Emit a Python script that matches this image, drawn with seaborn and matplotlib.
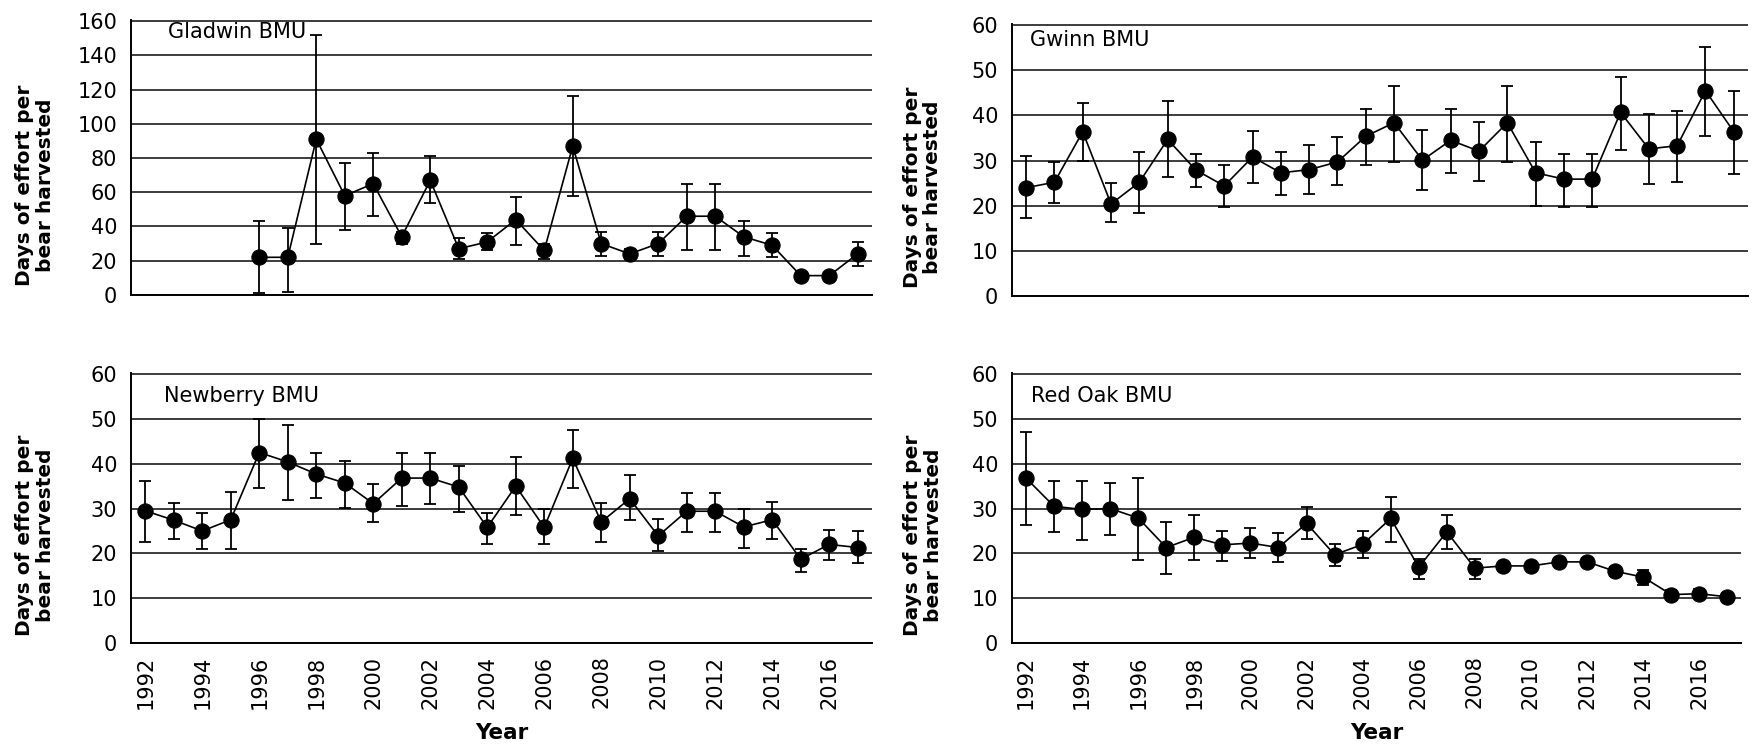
import numpy as np
import pandas as pd
import seaborn as sns
import matplotlib.pyplot as plt
from matplotlib.ticker import FixedLocator, MultipleLocator

nan = np.nan
years = list(range(1992, 2018))
year_labels = [str(y) if y % 2 == 0 else "" for y in years]

gladwin_mean = [nan, nan, nan, nan, 22, 22, 91, 58, 65, 34, 67, 27, 31, 44, 26, 87,
                30, 24, 30, 46, 46, 34, 29, 11.3, 11.3, 24]
gladwin_lo = [nan, nan, nan, nan, 1, 2, 30, 38, 46, 30, 54, 21, 26, 29, 21, 58,
              23, 21, 23, 26, 26, 23, 22, 9.5, 9.5, 17]
gladwin_hi = [nan, nan, nan, nan, 43, 39, 152, 77, 83, 37, 81, 33, 36, 57, 29.5, 116,
              37, 27, 37, 65, 65, 43, 36, 13, 13, 31]

gwinn_mean = [24, 25.2, 36.4, 20.4, 25.2, 34.7, 27.9, 24.4, 30.8, 27.3, 28, 29.7, 35.4,
              38.4, 30.1, 34.5, 32.1, 38.4, 27.3, 25.9, 25.9, 40.7, 32.6, 33.3, 45.5, 36.4]
gwinn_lo = [17.2, 20.7, 30, 16.3, 18.3, 26.3, 24.2, 19.7, 25, 22.3, 22.6, 24.5, 29.1,
            29.7, 23.4, 27.3, 25.5, 29.7, 20, 19.8, 19.8, 32.4, 24.9, 25.3, 35.4, 27.1]
gwinn_hi = [31, 29.7, 42.8, 25, 32, 43.2, 31.5, 29.1, 36.5, 31.9, 33.4, 35.3, 41.4,
            46.5, 36.7, 41.4, 38.5, 46.5, 34.1, 31.5, 31.5, 48.6, 40.3, 41, 55.2, 45.5]

newberry_mean = [29.5, 27.4, 25, 27.5, 42.5, 40.4, 37.7, 35.7, 31.1, 36.8, 36.8, 34.8, 25.8,
                 35, 25.8, 41.2, 27, 32.2, 23.9, 29.4, 29.4, 25.9, 27.5, 18.7, 22, 21.3]
newberry_lo = [22.6, 23.1, 21, 21, 34.5, 32, 32.4, 30.1, 26.9, 30.6, 31.1, 29.2, 22,
               28.5, 22, 34.5, 22.6, 27.4, 20.5, 24.8, 24.8, 21.3, 23.3, 15.9, 18.5, 17.8]
newberry_hi = [36.2, 31.3, 29.1, 33.8, 49.9, 48.6, 42.3, 40.6, 35.4, 42.3, 42.3, 39.6, 29.1,
               41.4, 29.8, 47.5, 31.3, 37.4, 27.6, 33.5, 33.5, 29.8, 31.5, 20.9, 25.3, 25]

redoak_mean = [36.8, 30.5, 29.8, 30, 27.9, 21.3, 23.6, 21.9, 22.3, 21.3, 26.7, 19.7, 22,
               27.8, 16.9, 24.8, 16.7, 17.2, 17.2, 18.1, 18.1, 16, 14.7, 10.8, 11, 10.3]
redoak_lo = [26.3, 24.8, 23, 24.2, 18.6, 15.5, 18.6, 18.4, 19, 18, 23.2, 17.1, 18.9,
             22.6, 14.3, 20.9, 14.3, 16.5, 16.5, 17.3, 17.3, 15, 13, 9.8, 10, 9.4]
redoak_hi = [47.1, 36.1, 36.1, 35.7, 36.8, 27, 28.5, 25, 25.6, 24.5, 30.4, 22.2, 25.1,
             32.6, 18.7, 28.5, 18.7, 17.9, 17.9, 18.9, 18.9, 17, 16.4, 11.8, 12, 11.2]

sns.set_style("white")
# the original uses a wide Arial-like face; DejaVu Sans matches its widths best
plt.rcParams['font.family'] = ['DejaVu Sans']
plt.rcParams['text.color'] = 'black'
plt.rcParams['axes.labelcolor'] = 'black'
plt.rcParams['xtick.color'] = 'black'
plt.rcParams['ytick.color'] = 'black'

fig = plt.figure(figsize=(17.59, 7.54), dpi=100)

panels = [
    ("Gladwin BMU", gladwin_mean, gladwin_lo, gladwin_hi, 160, 20,
     [0.0745, 0.6088, 0.4212, 0.3647], False, (0.05, 0.955), -0.103),
    ("Gwinn BMU", gwinn_mean, gwinn_lo, gwinn_hi, 60, 10,
     [0.5753, 0.6074, 0.4184, 0.3606], False, (0.024, 0.94), -0.095),
    ("Newberry BMU", newberry_mean, newberry_lo, newberry_hi, 60, 10,
     [0.0745, 0.1472, 0.4212, 0.3581], True, (0.045, 0.915), -0.103),
    ("Red Oak BMU", redoak_mean, redoak_lo, redoak_hi, 60, 10,
     [0.5753, 0.1472, 0.4147, 0.3581], True, (0.026, 0.915), -0.095),
]

for name, mean, lo, hi, ymax, ystep, rect, bottom, txt, labx in panels:
    ax = fig.add_axes(rect)
    df = pd.DataFrame({"year": years, "mean": mean, "lo": lo, "hi": hi}).dropna()
    ax.set_axisbelow(True)
    ax.yaxis.grid(True, color="#3c3c3c", lw=1.4)
    ax.errorbar(df["year"], df["mean"],
                yerr=[df["mean"] - df["lo"], df["hi"] - df["mean"]],
                fmt="none", ecolor="black", elinewidth=1.3, capsize=4.5, capthick=1.3, zorder=2)
    sns.lineplot(data=df, x="year", y="mean", ax=ax, color="black", lw=1.2,
                 marker="o", markersize=11, markeredgecolor="black", zorder=3)

    ax.set_xlim(1991.5, 2017.5)
    ax.set_ylim(0, ymax * 1.004)
    ax.yaxis.set_major_locator(MultipleLocator(ystep))
    ax.xaxis.set_major_locator(FixedLocator(years))
    ax.xaxis.set_minor_locator(FixedLocator(np.arange(1991.5, 2018, 1)))
    ax.tick_params(axis="x", which="major", length=0, pad=9)
    ax.tick_params(axis="x", which="minor", length=7, width=1.3, color="black", direction="out")
    ax.tick_params(axis="y", length=6, width=1.3, color="black", direction="out",
                   labelsize=15, pad=4)
    if bottom:
        ax.set_xticklabels(year_labels, rotation=90, fontsize=15)
        ax.set_xlabel("Year", fontsize=15.5, fontweight="bold", labelpad=10)
    else:
        ax.set_xticklabels([])
        ax.set_xlabel("")

    for s in ["top", "right"]:
        ax.spines[s].set_visible(False)
    for s in ["left", "bottom"]:
        ax.spines[s].set_color("black")
        ax.spines[s].set_linewidth(1.4)

    ax.set_ylabel("Days of effort per\nbear harvested", fontsize=14.5, fontweight="bold",
                  linespacing=1.1)
    ax.yaxis.set_label_coords(labx, 0.4)
    ax.text(txt[0], txt[1], name, transform=ax.transAxes, fontsize=15,
            ha="left", va="center", color="black")

fig.savefig("out.png", dpi=100)
